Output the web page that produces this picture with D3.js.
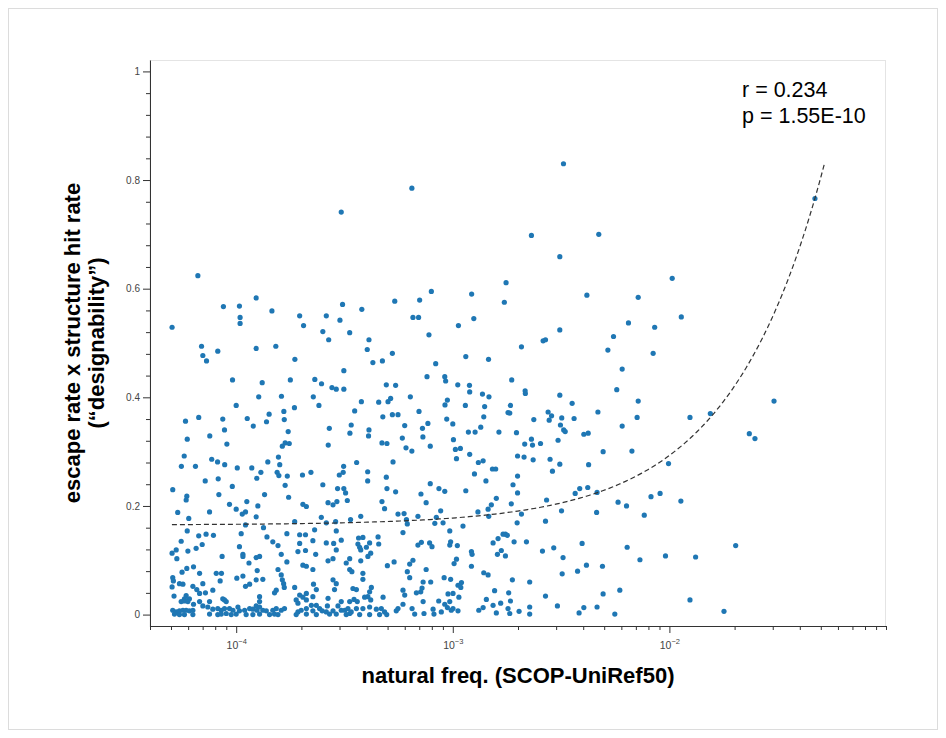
<!DOCTYPE html>
<html>
<head>
<meta charset="utf-8">
<script src="https://cdn.jsdelivr.net/npm/d3@7"></script>
<style>
  body { margin: 0; background: #fff; }
  svg { display: block; font-family: "Liberation Sans", Arial, sans-serif; }
</style>
</head>
<body>
<svg id="chart" width="946" height="738"></svg>
<script>
// [log10(natural freq), designability]
var samples = [
  // upper left
  [-3.515,.741],[-4.177,.624],[-3.908,.583],[-4.059,.567],[-3.985,.568],[-3.835,.559],[-3.982,.547],[-3.982,.536],
  [-3.707,.550],[-3.689,.532],[-3.584,.550],[-3.521,.542],[-3.509,.571],[-3.420,.562],[-4.296,.529],
  [-3.600,.521],[-3.476,.519],[-3.573,.506],[-3.387,.506],[-3.395,.488],[-3.369,.464],
  [-4.160,.494],[-4.154,.477],[-4.137,.467],[-4.085,.485],[-3.908,.490],[-3.817,.494],[-3.729,.470],[-3.503,.449],
  [-4.017,.432],[-3.880,.427],[-3.750,.432],[-3.637,.433],[-3.606,.425],[-3.558,.418],[-3.538,.415],[-3.503,.415],
  [-3.896,.401],[-3.791,.402],[-3.644,.401],[-3.618,.385],[-3.422,.392],[-3.342,.391],[-4.000,.385],[-3.731,.381],
  [-3.780,.374],[-3.848,.369],[-3.453,.375],
  [-4.234,.356],[-4.173,.363],[-4.062,.360],[-3.949,.361],[-3.860,.355],[-3.778,.359],[-3.921,.347],[-3.469,.349],
  [-3.570,.343],[-4.054,.340],[-3.760,.337],[-3.387,.340],[-3.389,.329],[-3.475,.334],[-4.122,.329],[-4.226,.323],
  [-4.043,.314],[-3.774,.316],[-3.755,.315],[-3.787,.310],[-3.575,.312],
  [-4.240,.292],[-4.113,.286],[-4.086,.281],[-4.053,.276],[-3.805,.290],[-3.854,.281],[-3.799,.276],[-3.444,.280],
  [-4.253,.273],[-4.188,.273],[-3.995,.270],[-3.928,.270],[-3.886,.262],[-3.811,.262],[-3.803,.256],[-3.764,.255],
  [-3.905,.251],[-3.694,.257],[-3.655,.262],[-3.504,.273],[-3.506,.262],[-3.524,.257],[-3.393,.263],[-3.393,.246],
  [-4.143,.246],[-4.083,.250],[-4.018,.236],[-3.774,.238],[-3.600,.239],[-3.532,.232],[-3.503,.232],[-3.495,.224],
  [-4.293,.230],[-4.080,.221],[-4.228,.218],[-3.869,.221],[-3.758,.216],
  // upper middle
  [-2.489,.830],[-3.189,.785],[-2.637,.698],[-2.326,.700],[-2.506,.659],[-2.754,.611],[-3.099,.595],[-2.913,.590],
  [-2.381,.588],[-3.268,.577],[-3.153,.579],[-2.762,.575],[-3.184,.547],[-3.158,.547],[-2.974,.532],[-2.903,.545],
  [-2.506,.524],
  [-3.110,.515],[-2.683,.493],[-2.583,.504],[-2.572,.506],[-3.279,.481],[-3.325,.467],[-3.079,.462],[-2.940,.475],
  [-2.835,.470],[-3.119,.438],[-3.037,.438],[-3.033,.430],[-2.977,.423],[-2.923,.422],[-2.922,.410],[-2.728,.432],
  [-2.666,.412],[-2.665,.407],[-3.307,.423],[-3.264,.422],[-2.506,.404],[-2.449,.389],[-2.863,.406],[-2.833,.401],
  [-3.196,.401],[-3.287,.398],[-3.299,.392],[-3.025,.395],[-3.036,.386],[-2.942,.385],[-2.853,.383],[-2.734,.385],
  [-2.745,.372],[-2.737,.371],[-3.156,.374],[-3.323,.364],[-3.279,.368],[-3.253,.368],[-2.560,.373],[-2.544,.366],
  [-2.555,.358],[-2.497,.362],[-2.440,.361],[-2.330,.373],[-2.626,.359],[-2.857,.364],[-3.028,.360],[-3.115,.352],
  [-3.000,.351],[-3.222,.348],[-3.140,.343],[-2.871,.345],[-2.503,.349],[-2.488,.340],[-2.481,.337],[-2.395,.332],
  [-2.375,.334],[-2.928,.336],[-2.897,.336],[-2.787,.336],[-2.706,.335],[-3.138,.327],[-3.233,.325],[-2.997,.322],
  [-2.637,.323],[-2.514,.321],[-2.668,.314],[-2.632,.312],[-2.595,.315],[-3.327,.316],[-3.304,.315],[-3.104,.310],
  [-3.216,.307],[-3.189,.301],[-2.988,.304],[-2.965,.306],[-2.922,.295],[-2.701,.292],[-2.671,.290],[-2.629,.285],
  [-2.551,.286],[-2.506,.277],[-2.373,.276],[-2.983,.287],[-3.276,.281],[-2.882,.280],[-2.860,.283],[-2.817,.268],
  [-2.802,.268],[-2.540,.264],[-2.900,.259],[-2.701,.255],[-3.307,.253],[-2.847,.246],[-3.104,.241],[-2.722,.239],
  [-2.377,.234],[-2.414,.232],[-3.304,.232],[-3.264,.226],[-3.064,.232],[-3.037,.227],[-2.940,.228],[-3.147,.222],
  [-2.701,.224],[-2.435,.223],[-2.334,.225],[-2.799,.214],
  // right side
  [-1.328,.766],[-1.987,.619],[-2.144,.584],[-1.945,.548],[-2.189,.537],[-2.068,.529],
  [-2.258,.512],[-2.284,.487],[-2.075,.481],[-2.218,.452],[-2.243,.414],[-2.144,.393],[-1.517,.393],[-2.149,.363],
  [-1.905,.363],[-1.811,.370],[-2.218,.347],[-1.631,.333],[-1.605,.324],[-2.306,.300],[-2.173,.301],[-2.004,.278],
  [-2.085,.217],[-2.043,.223],[-1.694,.127],[-1.748,.006],
  // lower right
  [-2.567,.211],[-2.237,.207],[-2.198,.200],[-1.947,.209],[-2.683,.185],[-2.498,.191],[-2.336,.188],[-2.116,.183],
  [-2.703,.169],[-2.572,.172],[-2.717,.134],[-2.660,.134],[-2.586,.117],[-2.534,.123],[-2.403,.131],[-2.195,.124],
  [-2.491,.105],[-2.136,.101],[-2.018,.108],[-1.879,.106],[-2.383,.091],[-2.309,.089],[-2.424,.080],[-2.495,.075],
  [-2.645,.060],[-2.572,.034],[-2.306,.038],[-2.229,.045],[-1.905,.027],[-2.645,.014],[-2.517,.016],[-2.395,.013],
  [-2.334,.014],[-2.694,.006],[-2.645,.001],[-2.417,.003],[-2.252,.001],
  // lower left
  [-4.231,.211],[-4.031,.203],[-4.000,.194],[-3.951,.208],[-3.957,.189],[-3.972,.185],[-3.900,.200],[-3.908,.180],
  [-4.270,.188],[-4.219,.177],[-4.123,.189],[-3.692,.203],[-3.676,.199],[-3.576,.206],[-3.553,.202],[-3.535,.208],
  [-3.730,.171],[-3.607,.179],[-3.584,.169],[-3.541,.171],[-3.957,.165],[-3.874,.160],
  [-4.226,.154],[-4.173,.145],[-4.139,.148],[-4.105,.146],[-3.977,.149],[-3.766,.149],[-3.707,.147],[-3.680,.147],
  [-3.638,.156],[-3.538,.154],[-4.254,.135],[-4.157,.129],[-3.858,.143],[-3.831,.134],[-3.807,.127],[-3.707,.131],
  [-3.646,.136],[-3.584,.132],[-3.550,.131],[-3.985,.125],
  [-4.296,.113],[-4.277,.119],[-4.274,.103],[-4.223,.117],[-4.185,.122],[-4.065,.107],[-3.969,.111],[-3.969,.107],
  [-3.908,.105],[-3.892,.107],[-3.792,.111],[-3.766,.097],[-3.715,.116],[-3.680,.118],[-3.633,.111],[-3.576,.099],
  [-3.553,.103],[-3.538,.119],[-3.941,.095],
  [-4.197,.088],[-4.228,.085],[-4.250,.078],[-4.169,.076],[-4.092,.076],[-4.068,.076],[-3.903,.081],[-3.807,.083],
  [-3.692,.091],[-3.676,.089],[-3.646,.083],[-3.997,.067],[-3.969,.071],[-3.792,.073],
  [-4.293,.068],[-4.290,.062],[-4.296,.051],[-4.262,.057],[-4.246,.056],[-4.200,.052],[-4.154,.057],[-4.074,.062],
  [-3.957,.052],[-3.938,.056],[-3.908,.064],[-3.877,.065],[-3.787,.064],[-3.781,.057],[-3.778,.050],[-3.730,.050],
  [-3.643,.056],[-3.630,.046],[-3.553,.064],[-3.538,.057],[-3.546,.046],
  [-4.287,.034],[-4.231,.035],[-4.239,.029],[-4.216,.029],[-4.182,.046],[-4.169,.039],[-4.142,.040],[-4.108,.045],
  [-4.062,.029],[-3.815,.045],[-3.823,.040],[-3.892,.033],[-3.707,.036],[-3.692,.032],[-3.676,.039],[-3.646,.033],
  [-3.576,.030],
  [-4.254,.024],[-4.239,.025],[-4.223,.024],[-4.197,.019],[-4.169,.024],[-4.123,.024],[-4.054,.027],[-4.046,.024],
  [-3.892,.024],[-3.908,.016],[-3.723,.027],[-3.715,.021],[-3.676,.027],[-3.653,.017],[-3.630,.017],[-3.615,.011],
  [-3.579,.016],[-4.293,.008],[-4.277,.005],[-4.262,.007],[-4.246,.008],[-4.231,.008],[-4.216,.007],[-4.200,.008],
  [-4.154,.016],[-4.131,.014],[-4.108,.010],[-4.085,.011],[-4.069,.008],[-4.054,.011],[-4.031,.011],[-4.015,.008],
  [-3.992,.014],[-3.985,.007],[-3.961,.008],[-3.938,.011],[-3.923,.010],[-3.904,.008],[-3.892,.014],[-3.877,.008],
  [-3.861,.007],[-3.831,.008],[-3.815,.011],[-3.792,.008],[-3.777,.011],[-3.715,.005],[-3.700,.008],[-3.676,.011],
  [-3.646,.007],[-3.603,.007],[-3.584,.005],[-3.553,.007],
  [-4.285,.001],[-4.262,.000],[-4.239,.000],[-4.200,.000],[-4.123,.001],[-4.085,.000],[-4.069,.001],[-4.046,.002],
  [-4.023,.000],[-4.000,.001],[-3.954,.000],[-3.923,.000],[-3.892,.001],[-3.846,.000],[-3.823,.001],[-3.807,.000],
  [-3.723,.000],[-3.676,.001],[-3.630,.000],[-3.569,.001],[-3.538,.001],
  // lower middle
  [-3.487,.210],[-3.327,.208],[-3.315,.195],[-3.123,.206],[-2.822,.202],[-2.730,.204],[-3.472,.175],[-3.425,.181],
  [-3.253,.185],[-3.225,.186],[-3.161,.181],[-3.076,.179],[-3.056,.191],[-3.083,.168],[-3.045,.169],[-3.214,.175],
  [-3.210,.167],[-2.884,.189],[-2.837,.194],[-2.834,.181],[-2.953,.163],[-3.014,.154],[-3.230,.151],[-2.768,.148],
  [-2.757,.148],[-2.748,.146],[-3.435,.141],[-3.415,.142],[-3.345,.143],[-3.515,.137],[-3.438,.130],[-3.384,.132],
  [-3.342,.130],[-2.814,.132],[-2.791,.140],[-3.145,.133],[-3.161,.128],[-3.107,.132],[-3.096,.125],[-3.010,.134],
  [-3.014,.128],[-2.979,.127],[-2.914,.116],[-2.911,.111],[-2.776,.118],[-2.794,.111],[-2.757,.108],[-3.430,.124],
  [-3.399,.124],[-3.425,.119],[-3.379,.113],[-3.392,.107],[-3.476,.103],[-3.492,.095],[-3.425,.099],[-3.302,.090],
  [-3.271,.097],[-3.184,.100],[-3.199,.093],[-2.994,.094],[-2.983,.102],[-2.914,.089],[-3.476,.083],[-3.466,.079],
  [-3.415,.076],[-3.123,.083],[-3.210,.079],[-3.199,.068],[-3.415,.065],[-2.857,.077],[-2.837,.073],[-3.040,.068],
  [-3.010,.065],[-2.725,.064],[-2.960,.059],[-2.976,.054],[-2.963,.050],[-3.137,.060],[-3.102,.060],[-3.168,.040],
  [-3.142,.049],[-3.148,.042],[-3.230,.045],[-3.222,.036],[-3.461,.048],[-3.445,.046],[-3.376,.050],[-3.384,.042],
  [-3.392,.033],[-3.022,.038],[-2.999,.039],[-2.972,.032],[-2.807,.044],[-2.742,.040],
  [-3.515,.024],[-3.476,.024],[-3.456,.028],[-3.441,.024],[-3.407,.032],[-3.379,.027],[-3.322,.032],[-3.137,.024],
  [-3.065,.025],[-3.037,.019],[-3.014,.024],[-2.999,.011],[-2.845,.028],[-2.814,.017],[-2.779,.021],[-2.734,.025],
  [-2.860,.013],[-2.880,.008],[-3.530,.016],[-3.515,.008],[-3.499,.008],[-3.484,.011],[-3.476,.002],[-3.492,.000],
  [-3.469,.005],[-3.445,.011],[-3.430,.000],[-3.415,.011],[-3.384,.014],[-3.384,.000],[-3.353,.010],[-3.330,.011],
  [-3.338,.000],[-3.315,.005],[-3.305,.000],[-3.261,.007],[-3.253,.011],[-3.230,.019],[-3.188,.011],[-3.176,.001],
  [-3.133,.002],[-3.091,.010],[-3.087,.001],[-3.053,.005],[-3.025,.013],[-3.007,.008],[-2.976,.007],[-2.799,.003],
  [-2.745,.011],[-2.737,.002]
];

var yMajorTicks = [0, 0.2, 0.4, 0.6, 0.8, 1];
var xMajorExponents = [-4, -3, -2];
var fitIntercept = 0.165, fitSlope = 12.8;
var fitRange = [5.05e-5, 0.052];
var statsLines = ["r = 0.234", "p = 1.55E-10"];
var xLabel = "natural freq. (SCOP-UniRef50)";
var yLabelLines = ["escape rate x structure hit rate", "(\u201cdesignability\u201d)"];

var plotLeft = 150, plotRight = 886, plotTop = 60, plotBottom = 626;
var svg = d3.select("#chart");

var x = d3.scaleLog().domain([4e-5, 0.1]).range([plotLeft, plotRight]);
var y = d3.scaleLinear().domain([-0.021, 1.021]).range([plotBottom, plotTop]);

// slide border and plot frame
svg.append("rect")
    .attr("x", 8.5).attr("y", 8.5).attr("width", 929).attr("height", 721)
    .attr("fill", "none").attr("stroke", "#dcdcdc");
svg.append("rect")
    .attr("x", plotLeft).attr("y", plotTop + 0.5)
    .attr("width", plotRight - plotLeft - 0.5).attr("height", plotBottom - plotTop)
    .attr("fill", "none").attr("stroke", "#e4e4e4");

// x axis
var xMinor = [];
d3.range(-5, -1).forEach(function(e) {
  d3.range(2, 10).forEach(function(k) { xMinor.push(k * Math.pow(10, e)); });
});
xMinor.push(0.1);
xMinor = xMinor.filter(function(v) { return v >= 3.999e-5 && v <= 0.1001; });

svg.append("g")
    .attr("transform", "translate(0," + plotBottom + ")")
    .call(d3.axisBottom(x).tickValues(xMinor).tickSize(4).tickFormat("").tickSizeOuter(0))
    .call(function(g) { g.select(".domain").remove(); });

var xAxisG = svg.append("g")
    .attr("transform", "translate(0," + plotBottom + ")")
    .call(d3.axisBottom(x).tickValues(xMajorExponents.map(function(e) { return Math.pow(10, e); }))
      .tickSize(7).tickFormat("").tickSizeOuter(0));
xAxisG.selectAll(".tick").each(function(d, i) {
  var t = d3.select(this).append("text")
      .attr("y", 23).attr("fill", "#444")
      .attr("text-anchor", "middle")
      .style("font-size", "10.5px");
  t.append("tspan").text("10");
  t.append("tspan").attr("dy", -5).style("font-size", "7.5px").text("\u2212" + Math.abs(xMajorExponents[i]));
});

// y axis
var yMinor = d3.range(0, 1.001, 0.04).filter(function(v) { return Math.abs(v * 5 - Math.round(v * 5)) > 1e-6; });
svg.append("g")
    .attr("transform", "translate(" + plotLeft + ",0)")
    .call(d3.axisLeft(y).tickValues(yMinor).tickSize(4).tickFormat("").tickSizeOuter(0))
    .call(function(g) { g.select(".domain").remove(); });

svg.append("g")
    .attr("transform", "translate(" + plotLeft + ",0)")
    .call(d3.axisLeft(y).tickValues(yMajorTicks).tickSize(7).tickPadding(3).tickSizeOuter(0)
      .tickFormat(function(d) { return d === 0 || d === 1 ? String(d) : d3.format(".1f")(d); }))
    .call(function(g) { g.selectAll("text").attr("fill", "#444").style("font-size", "10px"); });

svg.selectAll(".domain, .tick line").attr("stroke", "#333");

// points
svg.append("g")
  .selectAll("circle")
  .data(samples)
  .join("circle")
    .attr("cx", function(d) { return x(Math.pow(10, d[0])); })
    .attr("cy", function(d) { return y(d[1]); })
    .attr("r", 2.6)
    .attr("fill", "#1f77b4");

// linear fit
var fitX = d3.range(0, 201).map(function(i) {
  return fitRange[0] * Math.pow(fitRange[1] / fitRange[0], i / 200);
});
svg.append("path")
    .datum(fitX)
    .attr("fill", "none")
    .attr("stroke", "#333")
    .attr("stroke-width", 1.2)
    .attr("stroke-dasharray", "5,3")
    .attr("d", d3.line()
      .x(function(d) { return x(d); })
      .y(function(d) { return y(fitIntercept + fitSlope * d); }));

// stats
svg.append("g")
  .selectAll("text")
  .data(statsLines)
  .join("text")
    .attr("x", 742)
    .attr("y", function(d, i) { return 97 + i * 25.5; })
    .style("font-size", "21.5px")
    .attr("fill", "#000")
    .text(function(d) { return d; });

// axis titles
svg.append("text")
    .attr("x", 518).attr("y", 683)
    .attr("text-anchor", "middle")
    .style("font-size", "22px").style("font-weight", "bold")
    .text(xLabel);

svg.append("g")
    .attr("transform", "translate(80,343) rotate(-90)")
  .selectAll("text")
  .data(yLabelLines)
  .join("text")
    .attr("x", 0)
    .attr("y", function(d, i) { return i * 24; })
    .attr("text-anchor", "middle")
    .style("font-size", "22px").style("font-weight", "bold")
    .text(function(d) { return d; });
</script>
</body>
</html>
